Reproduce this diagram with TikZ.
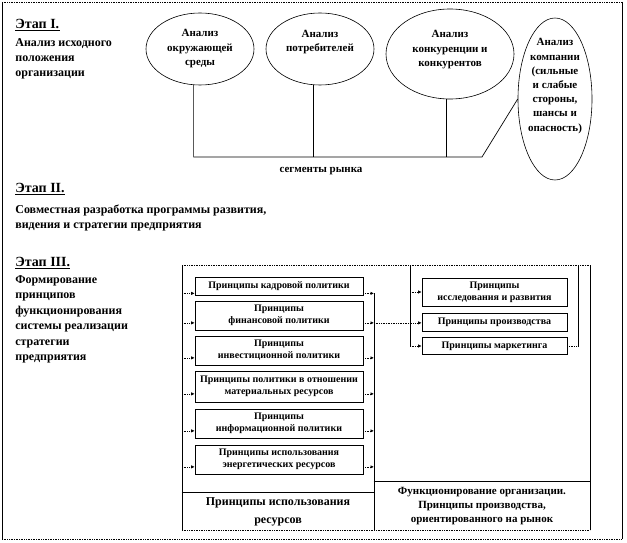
\documentclass[tikz,border=0pt]{standalone}
\usepackage{fontspec}
\setmainfont{Liberation Serif}
\usetikzlibrary{shapes.geometric,arrows.meta}

\begin{document}
\begin{tikzpicture}[x=1pt, y=-1pt, line width=0.7pt,
    oval/.style={draw, ellipse, line width=0.6pt, inner sep=0pt},
    ovaltext/.style={align=center, inner sep=0pt, font=\bfseries\fontsize{11}{14.5}\selectfont},
    stagehead/.style={anchor=north west, inner sep=0pt, font=\bfseries\fontsize{14}{16}\selectfont},
    stagetext/.style={anchor=north west, inner sep=0pt, align=left, font=\bfseries\fontsize{12}{15}\selectfont},
    lbox/.style={draw, minimum width=168pt, inner sep=1pt, align=center, font=\bfseries\fontsize{10}{12}\selectfont},
    rbox/.style={draw, minimum width=145pt, inner sep=1pt, align=center, font=\bfseries\fontsize{10}{12}\selectfont},
    basebox/.style={inner sep=0pt, align=center},
    stub/.style={densely dotted, -{Latex[length=3.5pt,width=3.5pt]}},
    hline/.style={densely dotted}]
    \useasboundingbox (0,0) rectangle (627,543);
    % outer frame
    \draw[hline] (2,2) -- (622,2);
    \draw[hline] (2,539) -- (622,539);
    \draw (2,2) -- (2,539);
    \draw (622,2) -- (622,539);

    % stage I
    \node[stagehead] (s1head) at (15,19) {Этап I.};
    \draw[line width=1.2pt] ([yshift=-2pt]s1head.base west) -- ([yshift=-2pt]s1head.base east);
    \node[stagetext] (s1text) at (15,38) {Анализ исходного\\положения\\организации};

    \node[oval, minimum width=108pt, minimum height=72pt] (envir) at (200,49) {};
    \node[ovaltext] (envirtxt) at (envir.center) {Анализ\\окружающей\\среды};
    \node[oval, minimum width=108pt, minimum height=72pt] (consum) at (320,49) {};
    \node[ovaltext] (consumtxt) at (320,42) {Анализ\\потребителей};
    \node[oval, minimum width=128pt, minimum height=90pt] (compet) at (450,54) {};
    \node[ovaltext] (compettxt) at (450,50) {Анализ\\конкуренции и\\конкурентов};
    \node[oval, minimum width=74pt, minimum height=162pt] (firm) at (555,99) {};
    \node[ovaltext, font=\bfseries\fontsize{11}{14.2}\selectfont] (firmtxt) at (555,86) {Анализ\\компании\\(сильные\\и слабые\\стороны,\\шансы и\\опасность)};

    \coordinate (segR) at (482,157);
    \draw (envir.260.5) |- (segR) -- (firm.west);
    \draw (consum.260.5) -- (consum.260.5 |- segR);
    \draw (compet.266) -- (compet.266 |- segR);
    \node[font=\bfseries\fontsize{11}{13}\selectfont] (segtxt) at (321,171) {сегменты рынка};

    % stage II
    \node[stagehead] (s2head) at (15,183) {Этап II.};
    \draw[line width=1.2pt] ([yshift=-2pt]s2head.base west) -- ([yshift=-2pt]s2head.base east);
    \node[stagetext, font=\bfseries\fontsize{12}{14.5}\selectfont] (s2text) at (15,205) {Совместная разработка программы развития,\\видения и стратегии предприятия};

    % stage III
    \node[stagehead] (s3head) at (15,257) {Этап III.};
    \draw[line width=1.2pt] ([yshift=-2pt]s3head.base west) -- ([yshift=-2pt]s3head.base east);
    \node[stagetext, font=\bfseries\fontsize{12}{15.5}\selectfont] (s3text) at (15,275) {Формирование\\принципов\\функционирования\\системы реализации\\стратегии\\предприятия};

    \coordinate (fNW) at (182,265);
    \coordinate (fSE) at (590,530);
    \draw[hline] (fNW) -- (fNW -| fSE);
    \draw[hline] (fNW |- fSE) -- (fSE);
    \draw (fNW) -- (fNW |- fSE);
    \draw (fNW -| fSE) -- (fSE);

    \node[lbox, minimum height=18pt] (kadr) at (279,286) {Принципы кадровой политики};
    \node[lbox, minimum height=29pt] (fin) at (279,315.5) {Принципы\\финансовой политики};
    \node[lbox, minimum height=29pt] (invest) at (279,350.5) {Принципы\\инвестиционной политики};
    \node[lbox, minimum height=31pt] (mater) at (279,386.5) {Принципы политики в отношении\\материальных ресурсов};
    \node[lbox, minimum height=29pt] (inform) at (279,423.5) {Принципы\\информационной политики};
    \node[lbox, minimum height=29pt] (energy) at (279,459.5) {Принципы использования\\энергетических ресурсов};

    \draw[stub] (fNW |- kadr.185) -- (kadr.185);
    \draw[stub] (fNW |- fin.185) -- (fin.185);
    \draw[stub] (fNW |- invest.185) -- (invest.185);
    \draw[stub] (fNW |- mater.185) -- (mater.185);
    \draw[stub] (fNW |- inform.185) -- (inform.185);
    \draw[stub] (fNW |- energy.185) -- (energy.185);

    \coordinate (bus) at (374,265);
    \draw (bus |- kadr.355) -- (bus |- fSE);
    \draw[stub] (kadr.355) -- (bus |- kadr.355);
    \draw[stub] (fin.355) -- (bus |- fin.355);
    \draw[stub] (invest.355) -- (bus |- invest.355);
    \draw[stub] (mater.355) -- (bus |- mater.355);
    \draw[stub] (inform.355) -- (bus |- inform.355);
    \draw[stub] (energy.355) -- (bus |- energy.355);

    % production group
    \coordinate (rgl) at (410,265);
    \coordinate (rgr) at (578,265);
    \node[rbox, minimum height=28pt] (research) at (494.5,292) {Принципы\\исследования и развития};
    \node[rbox, minimum height=18pt] (product) at (494.5,322) {Принципы производства};
    \node[rbox, minimum height=17pt] (market) at (494.5,346) {Принципы маркетинга};
    \draw[stub] (bus |- fin.355) -- (product.west |- fin.355);
    \draw (rgl) -- (rgl |- market.west);
    \draw[stub] (rgl |- research.west) -- (research.west);
    \draw[stub] (rgl |- market.west) -- (market.west);
    \draw (rgr) -- (rgr |- market.east);
    \draw[hline] (market.east) -- (rgr |- market.east);

    % bottom row
    \node[basebox, minimum width=192pt, minimum height=37pt, font=\bfseries\fontsize{12}{18}\selectfont] (resource) at (278,511.5) {Принципы использования\\ресурсов};
    \draw (resource.north west) -- (resource.north east);
    \node[basebox, minimum width=216pt, minimum height=48pt, font=\bfseries\fontsize{11}{14}\selectfont] (function) at (482,506) {Функционирование организации.\\Принципы производства,\\ориентированного на рынок};
    \draw (function.north west) -- (function.north east);
\end{tikzpicture}
\end{document}
